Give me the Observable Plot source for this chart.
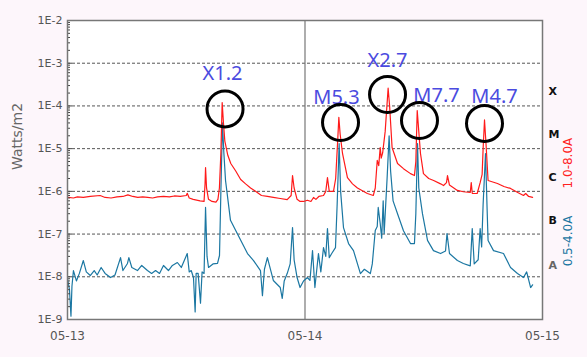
<!DOCTYPE html>
<html><head><meta charset="utf-8">
<script src="https://cdn.jsdelivr.net/npm/d3@7"></script>
<script src="https://cdn.jsdelivr.net/npm/@observablehq/plot@0.6"></script>
<style>
html,body{margin:0;padding:0;background:#fdf6fb;overflow:hidden;}
</style></head><body><div id="chart"></div>
<script>
// hours since 05-13 00:00 UT, long channel (1.0-8.0 A)
const longHours = [0.1,0.6,1.0,1.6,2.3,3.3,3.8,4.4,5.0,5.6,6.1,6.6,7.1,7.6,8.1,8.6,9.1,9.7,10.3,10.8,11.4,12.0,12.1,12.3,12.7,13.4,13.8,13.9,13.95,14.05,14.25,14.6,15.0,15.2,15.35,15.5,15.63,15.76,15.9,16.2,16.5,17.0,17.5,18.0,18.5,19.0,19.6,20.2,20.8,21.5,22.2,22.6,22.74,22.9,23.2,23.5,23.85,24.25,24.6,24.86,25.1,25.4,25.87,26.1,26.27,26.45,26.88,27.1,27.3,27.42,27.55,27.79,28.29,28.8,29.3,30.3,30.9,31.1,31.3,31.45,31.6,31.7,31.85,32.1,32.4,32.55,32.8,33.35,33.95,34.66,35.06,35.2,35.34,35.5,35.67,35.97,36.5,37.0,37.7,38.0,38.3,38.4,38.6,39.4,40.0,40.7,40.8,40.9,41.4,41.7,41.9,42.0,42.14,42.3,42.5,43.45,44.1,44.77,45.5,46.08,46.3,46.6,47.0];
const longFlux = [7.2e-7,7.0e-7,7.4e-7,7.2e-7,7.6e-7,8.0e-7,7.2e-7,7.0e-7,7.4e-7,7.6e-7,8.3e-7,7.6e-7,7.2e-7,7.4e-7,7.2e-7,7.0e-7,7.4e-7,7.6e-7,7.4e-7,7.8e-7,7.6e-7,8.0e-7,9.0e-7,7.0e-7,6.5e-7,6.0e-7,5.8e-7,1.5e-6,3.6e-6,1.2e-6,6.5e-7,5.8e-7,5.6e-7,6.5e-7,1.2e-6,8e-6,1.2e-4,4e-5,1.5e-5,7e-6,4.5e-6,3.0e-6,1.9e-6,1.5e-6,1.2e-6,1.0e-6,8.0e-7,7.6e-7,7.2e-7,6.8e-7,6.4e-7,8e-7,2.35e-6,1.2e-6,6.5e-7,5.8e-7,5.8e-7,6.2e-7,5.8e-7,7.2e-7,6.5e-7,7.6e-7,8e-7,1e-6,2.1e-6,1.0e-6,1.0e-6,2e-6,1.5e-5,5.4e-5,2.2e-5,7.7e-6,2.1e-6,1.5e-6,1.2e-6,8.9e-7,8.0e-7,1.2e-6,5.3e-6,4e-6,1.06e-5,6e-6,8e-6,2.5e-5,2.6e-4,1e-4,1.06e-5,4.5e-6,3.4e-6,2.6e-6,2.35e-6,5e-6,7.8e-5,2.5e-5,7.7e-6,2.6e-6,2.0e-6,1.8e-6,1.5e-6,1.37e-6,1.6e-6,2.35e-6,1.4e-6,1.05e-6,9.8e-7,9.4e-7,1.6e-6,9.0e-7,8.9e-7,1.6e-6,2.5e-6,1e-5,4.7e-5,1.2e-5,1.8e-6,1.53e-6,1.3e-6,1.17e-6,9.4e-7,8.0e-7,8.9e-7,7.6e-7,7.2e-7];
// short channel (0.5-4.0 A)
const shortHours = [0.0,0.2,0.35,0.45,0.6,0.9,1.2,1.6,1.9,2.3,2.7,3.0,3.4,3.8,4.35,4.8,5.36,5.6,6.06,6.2,6.5,7.07,7.5,8.08,8.5,8.9,9.3,9.7,10.2,10.6,11.1,11.5,12.1,12.3,12.5,12.73,12.9,13.0,13.2,13.44,13.6,13.8,13.95,14.1,14.25,14.7,15.16,15.36,15.5,15.66,15.8,15.97,16.47,17.18,18.19,18.8,19.5,19.7,19.9,20.2,20.8,21.5,21.7,21.9,22.2,22.5,22.74,22.9,23.2,23.5,23.85,24.25,24.5,24.76,25.0,25.36,25.6,25.87,26.1,26.27,26.45,26.7,27.08,27.25,27.45,27.6,27.89,28.4,28.9,29.6,30.0,30.6,30.8,31.1,31.3,31.4,31.6,31.75,31.9,32.0,32.3,32.5,32.65,32.9,33.35,33.95,34.66,35.06,35.2,35.37,35.5,35.87,36.38,36.98,37.7,38.2,38.35,38.6,39.4,40.0,40.7,40.9,41.1,41.5,41.7,41.85,42.0,42.24,42.4,42.5,43.05,44.06,44.77,45.47,46.08,46.4,46.8,47.0];
const shortFlux = [9e-9,5e-9,1.2e-9,6e-9,1.4e-8,8e-9,1.2e-8,2.4e-8,1.3e-8,1.07e-8,1.4e-8,1.1e-8,1.65e-8,1.2e-8,9.6e-9,1.1e-8,2.8e-8,1.4e-8,2.05e-8,2.8e-8,1.65e-8,1.4e-8,1.84e-8,1.4e-8,1.2e-8,1.4e-8,1.2e-8,1.84e-8,1.4e-8,1.84e-8,2.16e-8,1.65e-8,3.5e-8,1.3e-8,1.4e-8,9.6e-9,1.5e-9,1.2e-8,1.2e-8,2.4e-9,1.3e-8,1.2e-8,4.2e-7,3e-8,1.65e-8,2.0e-8,2.05e-8,3.15e-8,1e-6,4e-5,8e-6,1.8e-6,2.1e-7,1.0e-7,3.5e-8,2.4e-8,1.4e-8,3.6e-9,1.5e-8,2.8e-8,8.2e-9,5.6e-9,3.1e-9,8e-9,1.19e-8,2e-8,1.42e-7,2.5e-8,9.6e-9,5.6e-9,8e-9,9.6e-9,8.2e-9,4.1e-8,5.6e-9,3.5e-8,1.3e-8,4.8e-8,3e-8,1.35e-7,2.8e-8,3.5e-8,4.8e-8,5e-7,1.32e-5,1e-6,1.42e-7,6.0e-8,4.1e-8,1.19e-8,1.5e-8,1.19e-8,2e-8,1.21e-7,1.5e-7,4.2e-7,1.77e-7,8e-8,6e-7,1.03e-7,2.1e-6,2e-5,3e-6,6e-7,3e-7,1.2e-7,6e-8,6e-8,3e-7,1.32e-5,1.2e-6,3.0e-7,7.1e-8,4.1e-8,3.5e-8,4e-8,1.03e-7,3.5e-8,2.4e-8,2.05e-8,1.8e-8,1.35e-7,2e-8,2.5e-8,1.35e-7,5e-8,5e-7,7.7e-6,4e-7,7.1e-8,4.1e-8,3.5e-8,1.65e-8,1.19e-8,9.6e-9,1.3e-8,5.6e-9,6.5e-9];

const flareNames = ["X1.2","M5.3","X2.7","M7.7","M4.7"];
const flareLabelHours = [15.66,27.18,32.34,37.29,43.15];
const flareLabelFlux = [5.7e-4,1.57e-4,1.16e-3,1.75e-4,1.66e-4];
const circleHours = [15.92,27.59,32.34,35.57,42.14];
const circleFlux = [8.5e-5,4.1e-5,1.85e-4,4.56e-5,3.9e-5];
const circleRx = [18.5,15,19.5,17.5,20.5];
const circleRy = [19.5,15,19.5,13.5,16];

const classNames = ["X","M","C","B","A"];
const classFlux = [2.2e-4,2.2e-5,2.1e-6,2.1e-7,1.8e-8];
const classColors = ["#111","#111","#111","#111","#666"];

const yTicks = [1e-9,1e-8,1e-7,1e-6,1e-5,1e-4,1e-3,1e-2];
const yTickLabels = ["1E-9","1E-8","1E-7","1E-6","1E-5","1E-4","1E-3","1E-2"];
const gridFlux = [1e-8,1e-7,1e-6,1e-5,1e-4,1e-3];
const xTickHours = [0,24,48];
const xTickLabels = ["05-13","05-14","05-15"];

const base = Date.UTC(2013,4,13);
const toDate = h => new Date(base + h*3600e3);

const longData = longHours.map((h,i)=>({t:toDate(h), v:longFlux[i]}));
const shortData = shortHours.map((h,i)=>({t:toDate(h), v:shortFlux[i]}));
const labels = flareNames.map((n,i)=>({t:toDate(flareLabelHours[i]), v:flareLabelFlux[i], n}));
const circles = flareNames.map((n,i)=>({t:toDate(circleHours[i]), v:circleFlux[i]}));
const classes = classNames.map((n,i)=>({n, v:classFlux[i], c:classColors[i]}));
const minorTicks = [];
for (let k=-9;k<-2;k++) for (let m=2;m<10;m++) minorTicks.push(m*Math.pow(10,k));

const xTicks = xTickHours.map(toDate);
const W = 587, ML = 67, MR = 45;
const plotW = W - ML - MR;

const chart = Plot.plot({
  width: W, height: 357,
  marginLeft: ML, marginRight: MR, marginTop: 20, marginBottom: 38,
  style: {background:"transparent", fontFamily:"DejaVu Sans", fontSize:"11px", color:"#555"},
  x: {type:"utc", domain:[toDate(0), toDate(48)]},
  y: {type:"log", domain:[1e-9,1e-2]},
  marks: [
    Plot.frame({fill:"white", stroke:null}),
    Plot.ruleY(gridFlux, {stroke:"#555", strokeDasharray:"3,2", strokeWidth:1}),
    Plot.ruleX([toDate(24)], {stroke:"#777", strokeWidth:1.2}),
    Plot.line(shortData, {x:"t", y:"v", stroke:"#1b77a2", strokeWidth:1.2}),
    Plot.line(longData, {x:"t", y:"v", stroke:"#ff1a1a", strokeWidth:1.2}),
    Plot.tickY(minorTicks, {insetRight: plotW - 3, stroke:"#444", strokeWidth:1}),
    Plot.tickY(yTicks, {insetRight: plotW - 5, stroke:"#444", strokeWidth:1}),
    Plot.axisY({ticks: yTicks, tickFormat: d => yTickLabels[yTicks.indexOf(d)], tickSize:0, tickPadding:5, label:null, fontSize:11}),
    Plot.axisX({ticks: xTicks, tickFormat: d => xTickLabels[xTicks.findIndex(t=>+t===+d)], tickSize:0, tickPadding:12, label:null, fontSize:12}),
    Plot.text(["Watts/m2"], {frameAnchor:"left", dx:-50, rotate:-90, fontSize:14, fill:"#666"}),
    Plot.text(classes, {y:"v", text:"n", frameAnchor:"right", dx:6, textAnchor:"start", fontWeight:"bold", fontSize:11, fill:"c"}),
    Plot.text(["1.0-8.0A"], {y:[1.8e-5], frameAnchor:"right", dx:26, rotate:-90, fontSize:12, fill:"#ff2020"}),
    Plot.text(["0.5-4.0A"], {y:[2.7e-7], frameAnchor:"right", dx:26, rotate:-90, fontSize:12, fill:"#1b77a2"}),
    Plot.text(labels, {x:"t", y:"v", text:"n", fill:"#4b4be0", fontSize:20, fontFamily:"Noto Sans"}),
    Plot.dot(circles, {x:"t", y:"v", r:18, stroke:"black", strokeWidth:3, fill:"none", ariaLabel:"flare-circle"}),
    Plot.frame({stroke:"#777", strokeWidth:1.5})
  ]
});
document.getElementById("chart").appendChild(chart);
const ns = "http://www.w3.org/2000/svg";
const g = chart.querySelector('g[aria-label="flare-circle"]');
if (g) g.querySelectorAll("circle").forEach((c,i)=>{
  const e = document.createElementNS(ns,"ellipse");
  e.setAttribute("cx", c.getAttribute("cx"));
  e.setAttribute("cy", c.getAttribute("cy"));
  if (c.getAttribute("transform")) e.setAttribute("transform", c.getAttribute("transform"));
  e.setAttribute("rx", circleRx[i]);
  e.setAttribute("ry", circleRy[i]);
  c.replaceWith(e);
});
</script></body></html>
